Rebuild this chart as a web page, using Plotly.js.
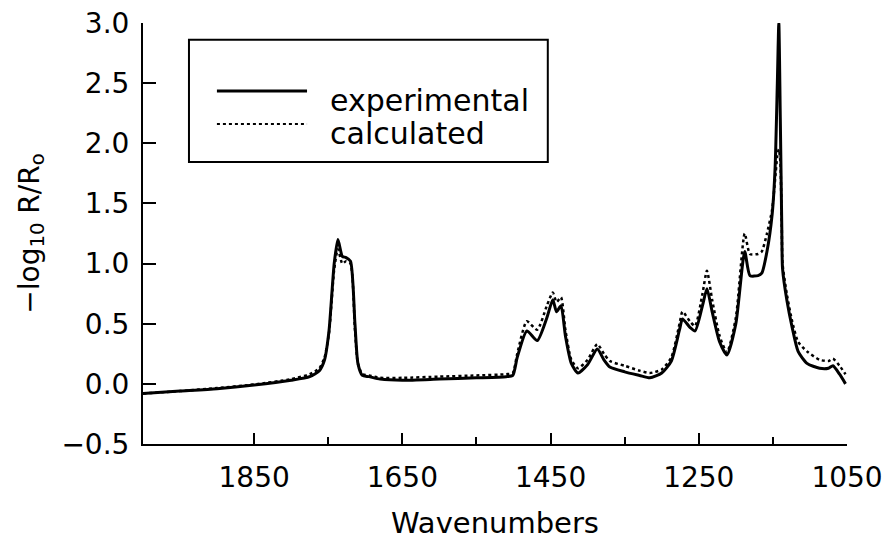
<!DOCTYPE html>
<html>
<head>
<meta charset="utf-8">
<script src="https://cdn.plot.ly/plotly-3.0.1.min.js"></script>
<style>html,body{margin:0;padding:0;background:#fff;}#chart{width:892px;height:540px;}</style>
</head>
<body>
<div id="chart"></div>
<script>
// Wavenumbers (cm^-1), shared by both series
const wavenumbers = [2000,1950,1900,1850,1800,1775,1762,1755,1749,1742,1737,1731,1726,1720,1714,1710,1704,1695,1680,1650,1600,1550,1510,1501,1495,1482,1468,1455,1447,1442,1436,1430,1422,1413,1400,1387,1378,1370,1350,1330,1316,1300,1287,1276,1272,1262,1255,1245,1239,1232,1222,1212,1200,1188,1181,1170,1165,1158,1151,1147,1144,1142,1140,1138,1137,1131,1124,1116,1104,1087,1075,1069,1060,1052];
const experimental = [-0.08,-0.06,-0.04,-0.01,0.03,0.06,0.11,0.20,0.44,1.00,1.20,1.06,1.05,1.02,0.50,0.17,0.07,0.06,0.04,0.03,0.04,0.05,0.06,0.07,0.22,0.44,0.36,0.55,0.70,0.60,0.65,0.40,0.17,0.09,0.16,0.29,0.20,0.14,0.10,0.07,0.05,0.09,0.19,0.45,0.54,0.47,0.44,0.65,0.79,0.60,0.35,0.24,0.50,1.10,0.90,0.90,0.92,1.10,1.41,1.80,2.50,3.00,2.20,1.30,0.96,0.69,0.47,0.27,0.17,0.13,0.13,0.15,0.08,0.00];
const calculated = [-0.08,-0.06,-0.035,-0.005,0.04,0.08,0.13,0.22,0.42,0.95,1.12,1.00,1.02,1.00,0.45,0.17,0.08,0.07,0.05,0.05,0.06,0.07,0.08,0.09,0.25,0.52,0.45,0.65,0.76,0.68,0.72,0.45,0.20,0.13,0.20,0.33,0.25,0.19,0.15,0.11,0.09,0.12,0.22,0.50,0.60,0.52,0.48,0.75,0.94,0.70,0.40,0.26,0.55,1.25,1.08,1.08,1.10,1.25,1.45,1.70,1.90,1.95,1.85,1.30,1.00,0.74,0.52,0.35,0.27,0.20,0.19,0.21,0.15,0.08];
const seriesNames = ["experimental","calculated"];
const xTickVals = [1850,1650,1450,1250,1050];
const xMinorVals = [1750,1550,1350,1150];
const yTickVals = [-0.5,0.0,0.5,1.0,1.5,2.0,2.5,3.0];

const FONT = "DejaVu Sans, Arial, sans-serif";
const traces = [
  {x: wavenumbers, y: experimental, name: seriesNames[0], type: "scatter", mode: "lines",
   line: {color: "#000", width: 3, shape: "spline", smoothing: 0.6}},
  {x: wavenumbers, y: calculated, name: seriesNames[1], type: "scatter", mode: "lines",
   line: {color: "#000", width: 2.5, dash: "dot", shape: "spline", smoothing: 0.6}}
];

const layout = {
  width: 892, height: 540,
  margin: {l: 143, r: 45, t: 23, b: 96},
  paper_bgcolor: "#fff", plot_bgcolor: "#fff",
  showlegend: false,
  font: {family: FONT, color: "#000", size: 28},
  xaxis: {
    range: [2000, 1050], autorange: false,
    showline: true, linecolor: "#000", linewidth: 2, mirror: false,
    showgrid: false, zeroline: false,
    ticks: "inside", ticklen: 11, tickwidth: 2, tickcolor: "#000",
    tickmode: "array", tickvals: xTickVals, ticktext: xTickVals.map(String),
    minor: {tickmode: "array", tickvals: xMinorVals, ticks: "inside", ticklen: 7, tickwidth: 2, tickcolor: "#000", showgrid: false},
    tickfont: {family: FONT, size: 28, color: "#000"},
    ticklabelstandoff: 7,
    title: {text: "Wavenumbers", font: {family: FONT, size: 29, color: "#000"}, standoff: 20}
  },
  yaxis: {
    range: [-0.5, 3.0], autorange: false,
    showline: true, linecolor: "#000", linewidth: 2,
    showgrid: false, zeroline: false,
    ticks: "inside", ticklen: 13, tickwidth: 2, tickcolor: "#000",
    tickmode: "array", tickvals: yTickVals, ticktext: yTickVals.map(v => v < 0 ? "\u2212" + Math.abs(v).toFixed(1) : v.toFixed(1)),
    tickfont: {family: FONT, size: 28, color: "#000"},
    ticklabelstandoff: 6,
    title: {text: "\u2212log<sub>10</sub> R/R<sub>o</sub>", font: {family: FONT, size: 28, color: "#000"}, standoff: 14}
  },
  shapes: [
    {type: "rect", xref: "paper", yref: "paper", x0: 0.0653, x1: 0.575, y0: 0.67, y1: 0.96, line: {color: "#000", width: 2}},
    {type: "line", xref: "paper", yref: "paper", x0: 0.105, x1: 0.233, y0: 0.8385, y1: 0.8385, line: {color: "#000", width: 3}},
    {type: "line", xref: "paper", yref: "paper", x0: 0.105, x1: 0.233, y0: 0.760, y1: 0.760, line: {color: "#000", width: 2, dash: "dot"}}
  ],
  annotations: [
    {xref: "paper", yref: "paper", x: 0.263, y: 0.815, xanchor: "left", yanchor: "middle", showarrow: false, text: seriesNames[0], font: {family: FONT, size: 30, color: "#000"}},
    {xref: "paper", yref: "paper", x: 0.263, y: 0.738, xanchor: "left", yanchor: "middle", showarrow: false, text: seriesNames[1], font: {family: FONT, size: 30, color: "#000"}}
  ]
};

Plotly.newPlot("chart", traces, layout, {staticPlot: true, displayModeBar: false});
</script>
</body>
</html>
